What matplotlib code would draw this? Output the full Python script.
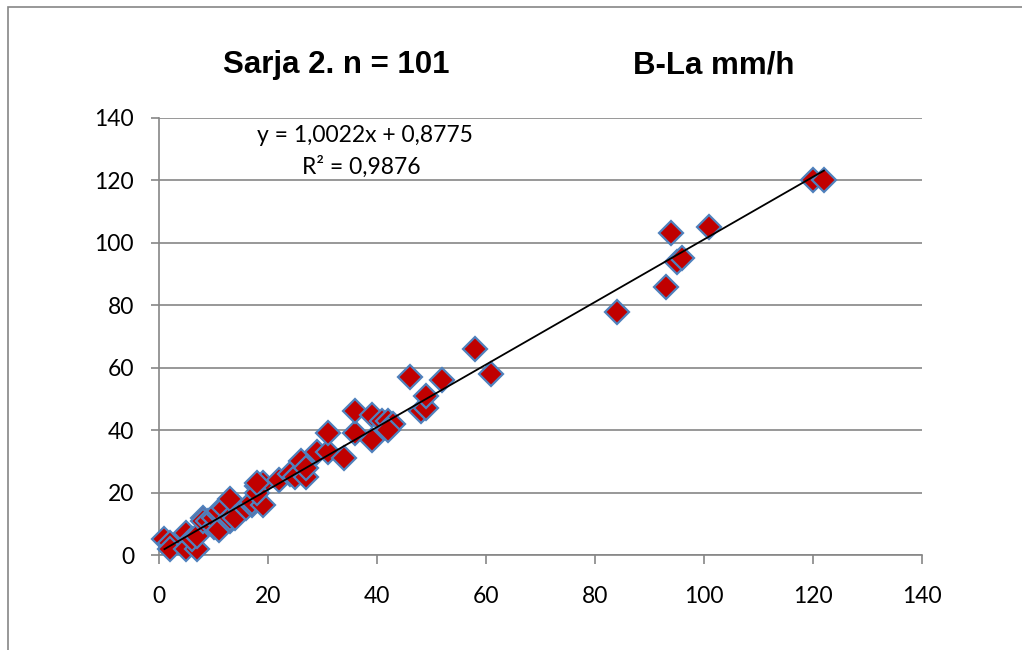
import numpy as np
import matplotlib.pyplot as plt
from matplotlib.patches import Rectangle

# Sarja 2, B-La mm/h
x_vals = [1, 2, 2, 5, 7, 5, 6, 7, 8, 8, 9, 10, 10, 11, 11, 11, 12, 13, 13, 13,
          14, 16, 17, 17, 19, 18, 19, 18, 18, 22, 24, 25, 26, 27, 27, 29, 31, 31,
          34, 36, 36, 39, 39, 41, 42, 43, 42, 46, 48, 49, 49, 52, 58, 61, 84, 93,
          94, 95, 96, 101, 120, 122]
y_vals = [5, 4, 2, 2, 2, 7, 5, 6, 12, 11, 11, 9, 12, 13, 14, 8, 15, 11, 12, 18,
          12, 15, 16, 17, 16, 22, 23, 20, 23, 24, 26, 25, 30, 25, 28, 33, 33, 39,
          31, 39, 46, 45, 37, 43, 43, 42, 40, 57, 46, 47, 51, 56, 66, 58, 78, 86,
          103, 94, 95, 105, 120, 120]

slope = 1.0022
intercept = 0.8775
r2 = 0.9876

title_left = "Sarja 2. n = 101"
title_right = "B-La mm/h"

plt.rcParams['font.family'] = ['Lato', 'DejaVu Sans']

fig = plt.figure(figsize=(10.22, 6.5), dpi=100)
ax = fig.add_axes([159/1022, 1 - 555/650, (922-159)/1022, (555-118)/650])

grid_col = '#868686'
ax.set_xlim(0, 140)
ax.set_ylim(0, 140)
ax.set_xticks(np.arange(0, 141, 20))
ax.set_yticks(np.arange(0, 141, 20))
ax.yaxis.grid(True, color=grid_col, linewidth=1.2)
ax.set_axisbelow(True)
for s in ['top', 'right']:
    ax.spines[s].set_visible(False)
for s in ['left', 'bottom']:
    ax.spines[s].set_color(grid_col)
    ax.spines[s].set_linewidth(1.2)
ax.tick_params(axis='x', direction='out', length=6.5, width=1.2, color=grid_col,
               pad=16, labelsize=16.5)
ax.tick_params(axis='y', direction='out', length=6, width=1.2, color=grid_col,
               pad=12, labelsize=16.5)

ax.plot(x_vals, y_vals, linestyle='none', marker='D', markersize=12,
        markerfacecolor='#C00000', markeredgecolor='#4F81BD', markeredgewidth=1.6,
        clip_on=False, zorder=3)

xs = np.array([min(x_vals), max(x_vals)])
ax.plot(xs, slope * xs + intercept, color='black', linewidth=1.3, zorder=4)

eq1 = "y = " + f"{slope:.4f}".replace('.', ',') + "x + " + f"{intercept:.4f}".replace('.', ',')
eq2 = "R² = " + f"{r2:.4f}".replace('.', ',')
fig.text(365/1022, 1 - 142/650, eq1, ha='center', va='baseline', fontsize=16.5)
fig.text(361/1022, 1 - 174/650, eq2, ha='center', va='baseline', fontsize=16.5)

fig.text(223/1022, 1 - 73/650, title_left, ha='left', va='baseline',
         fontsize=22.5, fontweight='bold', family='Liberation Sans')
fig.text(633/1022, 1 - 73/650, title_right, ha='left', va='baseline',
         fontsize=22.5, fontweight='bold', family='Liberation Sans')

# chart frame
fig.patches.append(Rectangle((8/1022, -0.01), 1.2, 1 - 7/650 + 0.01,
                             transform=fig.transFigure, fill=False,
                             edgecolor=grid_col, linewidth=1.2))

fig.savefig('out.png', dpi=100)
